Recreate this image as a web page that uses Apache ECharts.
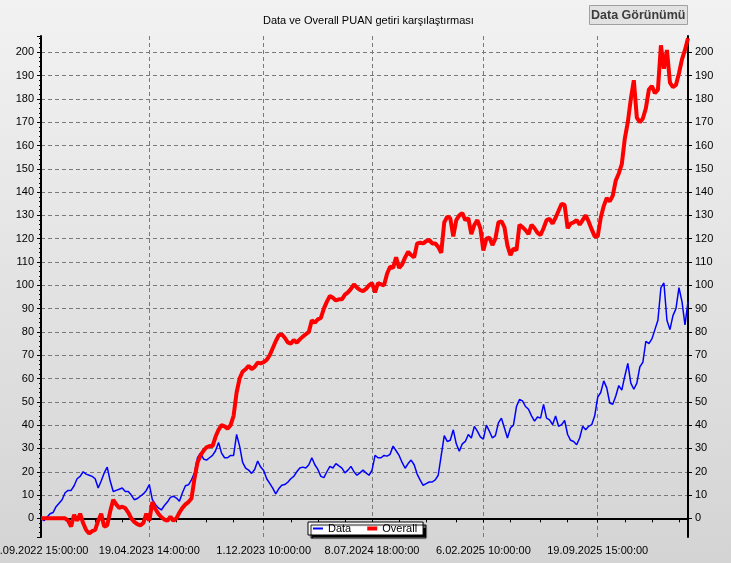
<!DOCTYPE html>
<html>
<head>
<meta charset="utf-8">
<title>Data ve Overall PUAN getiri karşılaştırması</title>
<script src="https://cdn.jsdelivr.net/npm/echarts@6/dist/echarts.min.js"></script>
<style>
  html, body { margin: 0; padding: 0; }
  #chart { width: 731px; height: 563px; }
</style>
</head>
<body>
<div id="chart"></div>
<script>
// x axis: point index -> label, only a few points carry a date label
const tickLabels = ['1.09.2022 15:00:00', '19.04.2023 14:00:00', '1.12.2023 10:00:00',
  '8.07.2024 18:00:00', '6.02.2025 10:00:00', '19.09.2025 15:00:00']
const labelIndex = [0, 36, 74, 110, 147, 185]
const tickIndex = [0, 9, 18, 27, 36, 45, 55, 64, 74, 83, 92, 101, 110, 119, 128, 138,
  147, 156, 166, 175, 185, 194, 203, 212]

const dataValues = [
  0, -1, 0.5, 2, 2.5, 5, 6.5, 8, 11, 12,
  12, 14, 17, 18, 20, 19, 18.5, 18, 17, 13,
  16, 19.5, 22, 16, 11.5, 12, 12.5, 13, 11.5, 11.5,
  10, 8, 8.5, 9.5, 10.5, 12, 14.5, 8, 6, 4.5,
  3.6, 5.5, 7, 9, 9.5, 8.7, 7.3, 11, 14, 14.4,
  16.5, 19.5, 26, 28, 25.5, 25, 26, 27, 29, 32.6,
  28, 26, 26, 27, 27, 36, 31, 24, 21.6, 20.7,
  19.3, 21, 24.6, 22, 20.5, 17, 15, 13, 10.5, 12.7,
  14.2, 14.5, 15.5, 17, 18, 20, 21.6, 22, 21.6, 23,
  26, 23, 21, 18, 17.5, 20, 22.3, 21.6, 23.5, 22.5,
  21.6, 19.5, 20.7, 22.3, 20, 18.5, 19.5, 20.7, 19.5, 18.5,
  20.7, 27, 26, 26, 27, 26.7, 27.5, 31, 29, 27,
  24, 21.5, 23.5, 25, 23, 19, 16.4, 14.2, 14.9, 15.6,
  15.6, 16.5, 18.5, 27, 35.5, 33, 33.5, 38, 32, 28.8,
  32, 33, 36, 34.5, 39.5, 37.4, 35, 34, 40, 37.4,
  34.5, 35.5, 41, 43, 38.8, 34.5, 38.8, 40, 48, 51,
  50.4, 48, 46.8, 44, 41.7, 43.5, 43, 48.9, 43, 42.3,
  40.2, 43.9, 39.5, 40.2, 42, 36, 33.5, 33, 31.6, 34.5,
  39.5, 38, 39.5, 40.2, 44, 52, 54, 59, 56, 49.5,
  49, 52.5, 57, 55, 61, 66.5, 58, 55.4, 58, 65,
  67, 76, 75, 77, 81, 85, 99, 101, 85, 81,
  87, 90, 99, 93, 83, 93
]

const overallValues = [
  0, 0, 0, 0, 0, 0, 0, 0, 0, -1,
  -3.5, 1.5, -1, 2, -2, -5, -6.5, -5.5, -5, -1,
  2, -3.5, -3, 3, 8, 6, 4.5, 5, 4.4, 2.5,
  0, -1.5, -2.5, -3, -2, 2, -1, 7, 4, 2,
  0.5, -0.5, -1, 0.7, -1, 0, 2.5, 4.5, 6, 7,
  8.5, 17, 24, 27, 29, 30.5, 31, 31, 35, 38,
  40, 39.5, 38.5, 40, 44, 54, 60, 63, 64, 65.5,
  64, 65, 66.8, 66.5, 67, 68, 70, 73, 76, 78.5,
  79, 77.5, 75.5, 75, 76.5, 75.4, 76.8, 78, 79, 80,
  85, 84, 85.4, 86, 90, 93, 95.4, 94.7, 93.5, 94,
  94, 96, 97, 98.5, 100.4, 99, 98, 97.5, 98.5, 100,
  101, 97, 101, 100.4, 100, 105, 108, 107.5, 112, 107.5,
  109, 112, 114.4, 113, 112, 118, 118.3, 118, 119, 119.5,
  118, 118, 116.5, 114, 127, 129.5, 128.8, 121, 128, 130,
  131, 128, 128.8, 122, 125.9, 128, 124.5, 115, 120, 120.5,
  117.3, 120, 127, 127.5, 125, 117, 113, 115.8, 115, 126,
  125, 123.7, 122, 126, 124.5, 122.5, 121.6, 124.5, 128, 128.5,
  126.5, 129, 132, 135, 134.5, 124.5, 126.5, 127, 128, 126,
  128, 130, 127.3, 124, 121, 121, 129, 134, 137.5, 136,
  138.5, 145, 148, 152, 163, 170, 180, 188, 172, 170,
  171.6, 176, 184, 185.5, 182.5, 184, 203, 193, 201, 187,
  185, 186, 191, 197, 201, 206
]

const points = dataValues.map((v, i) => String(i))

const fontFamily = "'Liberation Sans', Arial, sans-serif"

const yAxisBase = {
  type: 'value',
  min: -8,
  max: 207,
  splitNumber: 21,
  axisLine: { show: true, lineStyle: { color: '#000', width: 2 } },
  axisTick: { show: true, length: 4, lineStyle: { color: '#000' } },
  axisLabel: { color: '#000', fontSize: 11, margin: 7, showMinLabel: false, showMaxLabel: false },
}

const chart = echarts.init(document.getElementById('chart'))
chart.setOption({
  animation: false,
  backgroundColor: {
    type: 'linear', x: 0, y: 0, x2: 0, y2: 1,
    colorStops: [{ offset: 0, color: '#f2f2f2' }, { offset: 1, color: '#d4d4d4' }]
  },
  textStyle: { fontFamily: fontFamily },
  title: [
    {
      text: 'Data ve Overall PUAN getiri karşılaştırması',
      left: 263,
      top: 15,
      padding: 0,
      textStyle: { fontSize: 11, fontWeight: 'normal', color: '#000' }
    },
    {
      text: 'Data Görünümü',
      left: 589,
      top: 5,
      padding: [4, 2, 3, 2],
      backgroundColor: '#e2e2e2',
      borderColor: '#a0a0a0',
      borderWidth: 1,
      textStyle: { fontSize: 12.5, fontWeight: 'bold', color: '#3c3c3c' }
    }
  ],
  legend: {
    left: 308,
    top: 522,
    padding: [1, 6, 1, 5],
    itemGap: 16,
    itemWidth: 10,
    itemHeight: 4,
    backgroundColor: '#fff',
    borderColor: '#000',
    borderWidth: 1,
    shadowColor: '#000',
    shadowBlur: 1,
    shadowOffsetX: 3,
    shadowOffsetY: 3,
    textStyle: { color: '#000', fontSize: 11 },
    data: [
      { name: 'Data', icon: 'path://M0,0H10V2H0Z' },
      { name: 'Overall', icon: 'path://M0,0H10V4H0Z' }
    ]
  },
  grid: { left: 41, right: 43, top: 36, bottom: 26, outerBoundsMode: 'none', containLabel: false },
  xAxis: {
    type: 'category',
    boundaryGap: false,
    data: points,
    axisLine: { lineStyle: { color: '#000', width: 2 } },
    axisTick: {
      length: 4,
      interval: (i) => tickIndex.includes(i),
      lineStyle: { color: '#000' }
    },
    axisLabel: {
      interval: (i) => labelIndex.includes(i),
      formatter: (v, i) => tickLabels[labelIndex.indexOf(i)],
      color: '#000',
      fontSize: 11,
      margin: 8
    },
    splitLine: {
      show: true,
      interval: (i) => i > 0 && labelIndex.includes(i),
      lineStyle: { color: '#7a7a7a', type: [4, 3] }
    }
  },
  yAxis: [
    Object.assign({}, yAxisBase, {
      position: 'left',
      minorTick: { show: true, splitNumber: 5, length: 2, lineStyle: { color: '#000' } },
      splitLine: { show: true, showMinLine: false, showMaxLine: false, lineStyle: { color: '#7a7a7a', type: [4, 3] } }
    }),
    Object.assign({}, yAxisBase, {
      position: 'right',
      splitLine: { show: false }
    })
  ],
  series: [
    {
      name: 'Data',
      type: 'line',
      data: dataValues,
      symbol: 'none',
      color: '#0000ff',
      lineStyle: { width: 1.5 }
    },
    {
      name: 'Overall',
      type: 'line',
      data: overallValues,
      symbol: 'none',
      color: '#ff0000',
      lineStyle: { width: 4 }
    }
  ]
})
window.addEventListener('resize', () => { chart.resize() })
</script>
</body>
</html>
